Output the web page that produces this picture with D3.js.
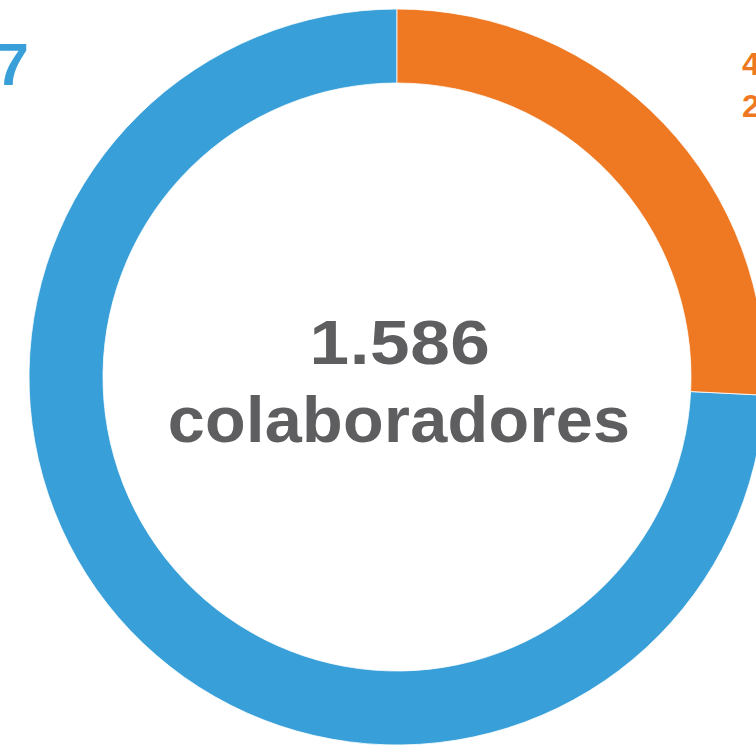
<!DOCTYPE html>
<meta charset="utf-8">
<head>
<style>
  body { margin: 0; background: #fff; }
  svg { display: block; }
  .center-text { font-family: "Liberation Sans", Arial, Helvetica, sans-serif; font-weight: bold; fill: #5e5e60; }
  .slice-label { font-family: "Liberation Sans", Arial, Helvetica, sans-serif; font-weight: bold; }
</style>
</head>
<body>
<script src="https://d3js.org/d3.v7.min.js"></script>
<script>

// data
var categories = ["blue", "orange"];
var values = [1177, 409];
var colors = ["#389fd8", "#ef7823"];
var totalLabel = "1.586";
var unitLabel = "colaboradores";
var valueLabels = ["1.177", "409"];
var pctLabels = ["", "26%"];

var width = 756,
    height = 745,
    cx = 397,
    cy = 377,
    outerR = 368,
    innerR = 294;

var svg = d3.select("body").append("svg")
    .attr("width", width)
    .attr("height", height);

var g = svg.append("g")
    .attr("transform", "translate(" + cx + "," + cy + ")");

// orange starts at 12 o'clock and goes clockwise, blue fills the rest
var pie = d3.pie()
    .sort(null)
    .startAngle(2 * Math.PI)
    .endAngle(0)
    .value(function(d) { return d; });

var arc = d3.arc()
    .innerRadius(innerR)
    .outerRadius(outerR);

var arcs = pie(values);

g.selectAll(".slice")
    .data(arcs)
    .enter().append("path")
    .attr("class", "slice")
    .attr("d", arc)
    .attr("fill", function(d, i) { return colors[i]; })
    .attr("stroke", "#fff")
    .attr("stroke-width", 0.8);

// center text - stretched a bit to look like the wider original face
g.append("text")
    .attr("class", "center-text")
    .attr("transform", "translate(3,-13) scale(1.13,1)")
    .attr("text-anchor", "middle")
    .attr("font-size", 63)
    .attr("letter-spacing", 0.5)
    .text(totalLabel);

g.append("text")
    .attr("class", "center-text")
    .attr("transform", "translate(2,65) scale(1.04,1)")
    .attr("text-anchor", "middle")
    .attr("font-size", 64)
    .attr("letter-spacing", 0.3)
    .text(unitLabel);

// slice labels (mostly outside the frame)
g.append("text")
    .attr("class", "slice-label")
    .attr("x", -outerR)
    .attr("y", -292)
    .attr("text-anchor", "end")
    .attr("font-size", 60)
    .attr("fill", colors[0])
    .text(valueLabels[0]);

var ol = g.append("text")
    .attr("class", "slice-label")
    .attr("x", 345)
    .attr("y", -302)
    .attr("text-anchor", "start")
    .attr("font-size", 32)
    .attr("fill", colors[1]);

ol.append("tspan")
    .attr("x", 345)
    .text(valueLabels[1]);

ol.append("tspan")
    .attr("x", 345)
    .attr("dy", 42)
    .text(pctLabels[1]);

</script>
</body>
